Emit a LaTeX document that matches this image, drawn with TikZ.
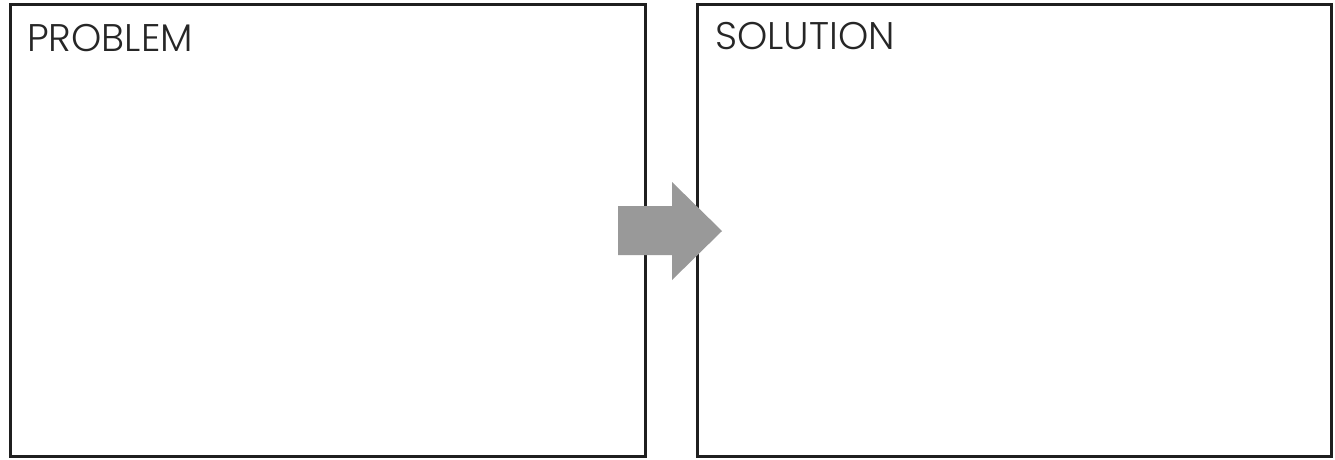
\documentclass[tikz,border=0pt]{standalone}
\usepackage{fontspec}
\setmainfont{Poppins}[UprightFont=* Light]
\begin{document}
\begin{tikzpicture}[x=1pt,y=-1pt,
  panel/.style={draw=black!88,line width=3pt,inner sep=0pt},
  title/.style={anchor=base west,inner sep=0pt,text=black!85,font=\fontsize{38.5}{44}\selectfont},
  bigarrow/.style={fill=black!40,draw=none}]
\useasboundingbox (0,0) rectangle (1335,459);
\fill[white] (0,0) rectangle (1335,459);
\node[panel,minimum width=635pt,minimum height=452pt] (left) at (327.5,230) {};
\node[panel,minimum width=634pt,minimum height=452pt] (right) at (1014,230) {};
\node[title] (ptitle) at (27,51) {PROBLEM};
\node[title] (stitle) at (715,49) {SOLUTION};
\fill[bigarrow] (618,206) -- (672,206) -- (672,182) -- (722,231) -- (672,280) -- (672,255) -- (618,255) -- cycle;
\end{tikzpicture}
\end{document}
